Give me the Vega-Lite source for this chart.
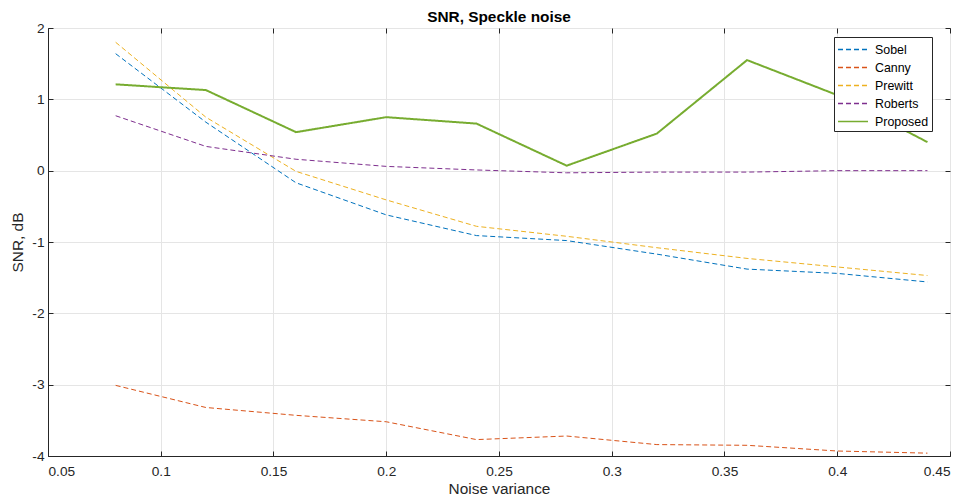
{
  "$schema": "https://vega.github.io/schema/vega-lite/v6.json",
  "autosize": "none",
  "width": 902,
  "height": 428,
  "padding": {"left": 48, "top": 28, "right": 8, "bottom": 48},
  "background": "white",
  "config": {
    "font": "Liberation Sans",
    "view": {"stroke": "#262626", "strokeWidth": 1},
    "axis": {
      "domainColor": "#262626",
      "tickColor": "#262626",
      "labelColor": "#262626",
      "titleColor": "#262626",
      "labelFont": "Liberation Sans",
      "titleFont": "Liberation Sans",
      "labelFontSize": 13.7,
      "titleFontSize": 15.4,
      "titleFontWeight": "normal",
      "gridColor": "#e5e5e5",
      "gridOpacity": 1,
      "tickSize": -5,
      "labelPadding": 9
    }
  },
  "title": {
    "text": "SNR, Speckle noise",
    "fontSize": 15.4,
    "fontWeight": "bold",
    "font": "Liberation Sans",
    "color": "#000000",
    "offset": -4,
    "anchor": "middle"
  },
  "data": {
    "values": [
      {"x": 0.08, "snr": 1.64, "series": "Sobel"},
      {"x": 0.12, "snr": 0.68, "series": "Sobel"},
      {"x": 0.16, "snr": -0.17, "series": "Sobel"},
      {"x": 0.20, "snr": -0.62, "series": "Sobel"},
      {"x": 0.24, "snr": -0.91, "series": "Sobel"},
      {"x": 0.28, "snr": -0.98, "series": "Sobel"},
      {"x": 0.32, "snr": -1.17, "series": "Sobel"},
      {"x": 0.36, "snr": -1.38, "series": "Sobel"},
      {"x": 0.40, "snr": -1.44, "series": "Sobel"},
      {"x": 0.44, "snr": -1.56, "series": "Sobel"},
      {"x": 0.08, "snr": -3.01, "series": "Canny"},
      {"x": 0.12, "snr": -3.32, "series": "Canny"},
      {"x": 0.16, "snr": -3.43, "series": "Canny"},
      {"x": 0.20, "snr": -3.52, "series": "Canny"},
      {"x": 0.24, "snr": -3.77, "series": "Canny"},
      {"x": 0.28, "snr": -3.72, "series": "Canny"},
      {"x": 0.32, "snr": -3.84, "series": "Canny"},
      {"x": 0.36, "snr": -3.85, "series": "Canny"},
      {"x": 0.40, "snr": -3.93, "series": "Canny"},
      {"x": 0.44, "snr": -3.96, "series": "Canny"},
      {"x": 0.08, "snr": 1.80, "series": "Prewitt"},
      {"x": 0.12, "snr": 0.75, "series": "Prewitt"},
      {"x": 0.16, "snr": -0.01, "series": "Prewitt"},
      {"x": 0.20, "snr": -0.41, "series": "Prewitt"},
      {"x": 0.24, "snr": -0.78, "series": "Prewitt"},
      {"x": 0.28, "snr": -0.92, "series": "Prewitt"},
      {"x": 0.32, "snr": -1.08, "series": "Prewitt"},
      {"x": 0.36, "snr": -1.23, "series": "Prewitt"},
      {"x": 0.40, "snr": -1.35, "series": "Prewitt"},
      {"x": 0.44, "snr": -1.47, "series": "Prewitt"},
      {"x": 0.08, "snr": 0.77, "series": "Roberts"},
      {"x": 0.12, "snr": 0.34, "series": "Roberts"},
      {"x": 0.16, "snr": 0.16, "series": "Roberts"},
      {"x": 0.20, "snr": 0.06, "series": "Roberts"},
      {"x": 0.24, "snr": 0.01, "series": "Roberts"},
      {"x": 0.28, "snr": -0.03, "series": "Roberts"},
      {"x": 0.32, "snr": -0.02, "series": "Roberts"},
      {"x": 0.36, "snr": -0.02, "series": "Roberts"},
      {"x": 0.40, "snr": 0.0, "series": "Roberts"},
      {"x": 0.44, "snr": 0.0, "series": "Roberts"},
      {"x": 0.08, "snr": 1.21, "series": "Proposed"},
      {"x": 0.12, "snr": 1.13, "series": "Proposed"},
      {"x": 0.16, "snr": 0.54, "series": "Proposed"},
      {"x": 0.20, "snr": 0.75, "series": "Proposed"},
      {"x": 0.24, "snr": 0.66, "series": "Proposed"},
      {"x": 0.28, "snr": 0.07, "series": "Proposed"},
      {"x": 0.32, "snr": 0.52, "series": "Proposed"},
      {"x": 0.36, "snr": 1.55, "series": "Proposed"},
      {"x": 0.40, "snr": 1.06, "series": "Proposed"},
      {"x": 0.44, "snr": 0.40, "series": "Proposed"}
    ]
  },
  "layer": [
    {
      "mark": {"type": "line", "clip": true},
      "encoding": {
        "x": {
          "field": "x", "type": "quantitative",
          "scale": {"domain": [0.05, 0.45], "nice": false, "zero": false},
          "axis": {
            "title": "Noise variance",
            "values": [0.05, 0.1, 0.15, 0.2, 0.25, 0.3, 0.35, 0.4, 0.45],
            "format": "~g",
            "labelPadding": 13.5,
            "titlePadding": 3
          }
        },
        "y": {
          "field": "snr", "type": "quantitative",
          "scale": {"domain": [-4, 2], "nice": false, "zero": false},
          "axis": {
            "title": "SNR, dB",
            "values": [-4, -3, -2, -1, 0, 1, 2],
            "labelExpr": "replace(datum.label, '−', '-')",
            "titlePadding": 6
          }
        },
        "color": {
          "field": "series", "type": "nominal",
          "scale": {
            "domain": ["Sobel", "Canny", "Prewitt", "Roberts", "Proposed"],
            "range": ["#0072BD", "#D95319", "#EDB120", "#7E2F8E", "#77AC30"]
          },
          "legend": {
            "title": null,
            "orient": "none",
            "legendX": 786,
            "legendY": 9,
            "symbolType": "M-1,0H2.53",
            "symbolSize": 289,
            "symbolStrokeWidth": 1.5,
            "labelFontSize": 12.4,
            "labelColor": "#000000",
            "fillColor": "white",
            "strokeColor": "#262626",
            "padding": 3,
            "labelOffset": 19
          }
        },
        "strokeDash": {
          "field": "series", "type": "nominal",
          "scale": {
            "domain": ["Sobel", "Canny", "Prewitt", "Roberts", "Proposed"],
            "range": [[5, 3], [5, 3], [5, 3], [5, 3], [1, 0]]
          }
        },
        "strokeWidth": {
          "condition": {"test": "datum.series === 'Proposed'", "value": 2},
          "value": 1
        },
        "order": {"field": "x", "type": "quantitative"}
      }
    },
    {
      "mark": {"type": "point", "opacity": 0},
      "encoding": {
        "x": {
          "field": "x", "type": "quantitative",
          "axis": {"orient": "top", "labels": false, "grid": false, "title": null, "domain": false,
                   "values": [0.05, 0.1, 0.15, 0.2, 0.25, 0.3, 0.35, 0.4, 0.45]}
        },
        "y": {
          "field": "snr", "type": "quantitative",
          "axis": {"orient": "right", "labels": false, "grid": false, "title": null, "domain": false,
                   "values": [-4, -3, -2, -1, 0, 1, 2]}
        }
      }
    }
  ],
  "resolve": {"axis": {"x": "independent", "y": "independent"}}
}
